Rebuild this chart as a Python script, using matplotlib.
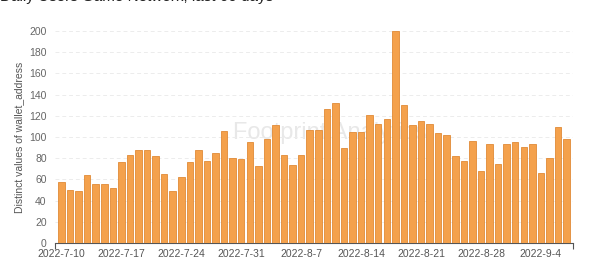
import numpy as np
import pandas as pd
import matplotlib
matplotlib.use('Agg')
import matplotlib.pyplot as plt

# daily distinct wallets, 2022-7-10 .. 2022-9-7
dates = pd.date_range('2022-07-10', periods=60, freq='D')
users = [58, 50, 49, 64, 56, 56, 52,
         76, 83, 88, 88, 82, 65, 49,
         62, 76, 88, 77, 85, 106, 80,
         79, 95, 73, 98, 111, 83, 74,
         83, 107, 107, 126, 132, 90, 105,
         105, 121, 112, 117, 200, 130, 111,
         115, 112, 104, 102, 82, 77, 96,
         68, 93, 75, 93, 95, 91, 93,
         66, 80, 109, 98]
labels = ['%d-%d-%d' % (d.year, d.month, d.day) for d in dates]

plt.rcParams['font.family'] = ['Liberation Sans', 'DejaVu Sans']

fig = plt.figure(figsize=(6, 2.61), dpi=100)
ax = fig.add_axes([0.0917, 0.069, 0.8633, 0.812])

x = np.arange(len(users))
ax.bar(x, users, width=0.76, color='#F4A14C', edgecolor='#E08A36',
       linewidth=0.6, zorder=3)

ax.set_xlim(-0.75, len(users) - 0.25)
ax.set_ylim(0, 200)
ax.set_yticks(range(0, 201, 20))
ax.set_xticks(x[::7])
ax.set_xticklabels(labels[::7])
ax.set_xticks([-0.75, len(users) - 0.25], minor=True)
ax.tick_params(axis='x', which='major', length=0, pad=4, labelsize=7.5, colors='#555555')
ax.tick_params(axis='x', which='minor', length=4, color='#555555', width=0.8)
ax.tick_params(axis='y', length=0, pad=6, labelsize=7.5, colors='#666666')

ax.grid(axis='y', linestyle=(0, (4, 3)), color='#ececec', linewidth=0.7, zorder=0)
for s in ['top', 'right', 'left']:
    ax.spines[s].set_visible(False)
ax.spines['bottom'].set_color('#555555')
ax.spines['bottom'].set_linewidth(0.8)

ax.set_ylabel('Distinct values of wallet_address', fontsize=7.5, color='#555555', labelpad=4)

# faint watermark behind the bars
ax.text(0.53, 0.52, 'Footprint Analytics', transform=ax.transAxes, fontsize=17,
        color='#e8e8e8', ha='center', va='center', zorder=1)

fig.text(0.0, 1.012, 'Daily Users Game Network, last 60 days', fontsize=11,
         color='#222222', ha='left', va='center')

fig.savefig('out.png', dpi=100)
